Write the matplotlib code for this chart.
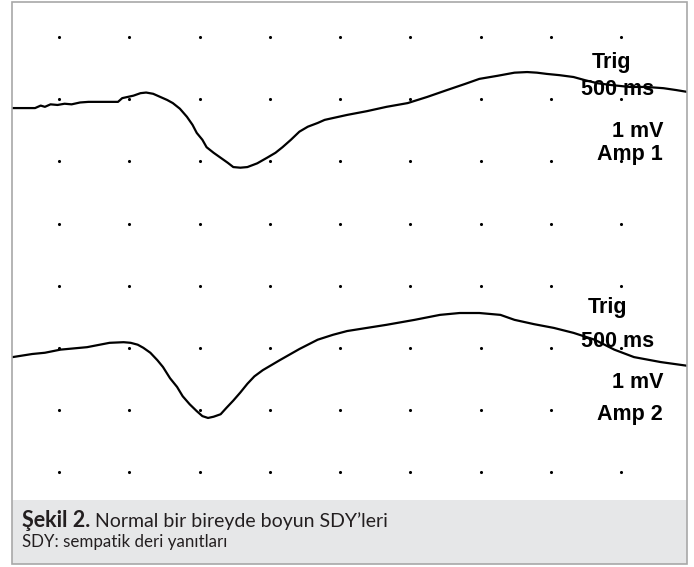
import matplotlib
matplotlib.use("Agg")
import matplotlib.pyplot as plt
from matplotlib.patches import Rectangle
import numpy as np

# sweep 1 (time in s, level in mV on screen divisions)
t1 = [-0.33, -0.17, -0.13, -0.10, -0.06, -0.01, 0.04, 0.09, 0.15, 0.21,
      0.42, 0.45, 0.53, 0.58, 0.62, 0.67, 0.72, 0.77, 0.81, 0.86, 0.91,
      0.95, 0.98, 1.02, 1.05, 1.10, 1.15, 1.20, 1.24, 1.29, 1.34, 1.41,
      1.48, 1.54, 1.59, 1.65, 1.71, 1.77, 1.84, 1.89, 1.95, 2.05, 2.19,
      2.33, 2.48, 2.62, 2.76, 2.89, 2.99, 3.12, 3.24, 3.33, 3.40, 3.47,
      3.56, 3.66, 3.74, 3.83, 3.93, 4.06, 4.18, 4.30, 4.39, 4.47]
v1 = [5.86, 5.86, 5.90, 5.88, 5.92, 5.91, 5.93, 5.92, 5.95, 5.96,
      5.96, 6.02, 6.06, 6.10, 6.11, 6.09, 6.04, 5.99, 5.94, 5.85, 5.72,
      5.59, 5.46, 5.35, 5.23, 5.14, 5.06, 4.98, 4.91, 4.90, 4.91, 4.97,
      5.06, 5.14, 5.23, 5.35, 5.48, 5.56, 5.62, 5.67, 5.70, 5.75, 5.81,
      5.88, 5.94, 6.04, 6.15, 6.25, 6.33, 6.38, 6.43, 6.44, 6.43, 6.41,
      6.39, 6.36, 6.31, 6.26, 6.23, 6.20, 6.20, 6.18, 6.15, 6.12]

# sweep 2
t2 = [-0.33, -0.19, -0.10, 0.01, 0.20, 0.36, 0.46, 0.51, 0.56, 0.60, 0.65,
      0.70, 0.74, 0.79, 0.84, 0.88, 0.93, 0.98, 1.02, 1.06, 1.10, 1.15,
      1.19, 1.24, 1.29, 1.34, 1.39, 1.45, 1.51, 1.57, 1.71, 1.84, 1.95,
      2.05, 2.19, 2.33, 2.53, 2.71, 2.85, 2.99, 3.14, 3.24, 3.38, 3.52,
      3.66, 3.81, 3.95, 4.09, 4.28, 4.47]
v2 = [1.85, 1.90, 1.92, 1.97, 2.01, 2.08, 2.09, 2.08, 2.05, 2.00, 1.92,
      1.80, 1.69, 1.51, 1.37, 1.22, 1.09, 0.98, 0.90, 0.87, 0.89, 0.93,
      1.03, 1.15, 1.28, 1.42, 1.54, 1.64, 1.72, 1.80, 1.98, 2.13, 2.21,
      2.27, 2.32, 2.37, 2.45, 2.53, 2.56, 2.56, 2.53, 2.45, 2.38, 2.32,
      2.24, 2.13, 1.97, 1.85, 1.77, 1.71]

# screen dot grid: 500 ms / div, 1 mV / div
grid_t = np.arange(0, 4.01, 0.5)
grid_v = np.arange(0, 8)

labels1 = ["Trig", "500 ms", "1 mV", "Amp 1"]
labels2 = ["Trig", "500 ms", "1 mV", "Amp 2"]
pos1 = [(3.79, 6.51), (3.71, 6.07), (3.93, 5.39), (3.83, 5.02)]
pos2 = [(3.76, 2.56), (3.71, 2.01), (3.93, 1.35), (3.83, 0.84)]

fig = plt.figure(figsize=(6.94, 5.67), dpi=100)
W, H = 694, 567

# caption panel and outer frame
fig.patches.append(Rectangle((12 / W, 1 - 564 / H), 675 / W, 64 / H,
                             transform=fig.transFigure, facecolor="#e6e7e8",
                             edgecolor="none", zorder=0))
fig.patches.append(Rectangle((12 / W, 1 - 564 / H), 675 / W, 562 / H,
                             transform=fig.transFigure, facecolor="none",
                             edgecolor="#a8a8a8", linewidth=1.2, zorder=5))

ax = fig.add_axes([12 / W, 1 - 500 / H, 675 / W, 498 / H])
ax.set_xlim(-0.334, 4.467)
ax.set_ylim(-0.451, 7.568)
ax.axis("off")

gt, gv = np.meshgrid(grid_t, grid_v)
ax.scatter(gt.ravel(), gv.ravel(), s=5, color="black", linewidths=0)

ax.plot(t1, v1, color="black", linewidth=1.6)
ax.plot(t2, v2, color="black", linewidth=1.6)

for lab, (x, y) in zip(labels1 + labels2, pos1 + pos2):
    ax.text(x, y, lab, fontsize=15.5, fontweight="bold",
            family=["Liberation Sans", "DejaVu Sans"], ha="left",
            va="baseline", color="black")

# caption
cap_font = ["Lato", "DejaVu Sans"]
t_bold = fig.text(22 / W, 1 - 527 / H, "Şekil 2.", fontsize=15.5,
                  fontweight="bold", family=cap_font, color="#231f20")
fig.canvas.draw()
bb = t_bold.get_window_extent()
fig.text((bb.x1 + 5) / W, 1 - 527 / H, "Normal bir bireyde boyun SDY\u2019leri",
         fontsize=14, fontweight="normal", family=cap_font, color="#231f20")
fig.text(22 / W, 1 - 547 / H, "SDY: sempatik deri yanıtları", fontsize=12.2,
         fontweight="normal", family=cap_font, color="#231f20")

fig.savefig("out.png", dpi=100)
